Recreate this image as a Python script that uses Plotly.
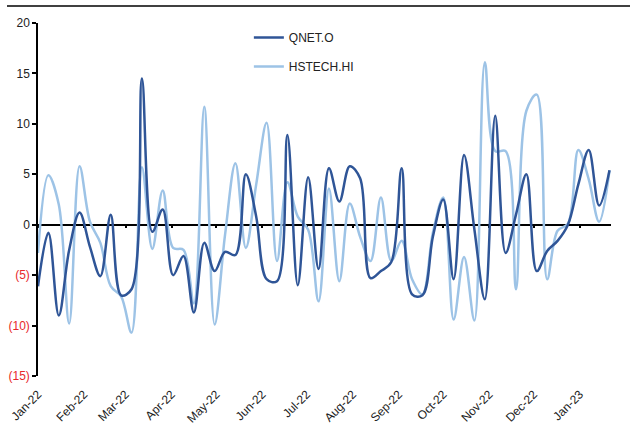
import pandas as pd
import plotly.graph_objects as go

start_date = "2022-01-01"
n_weeks = 56
dates = pd.date_range(start_date, periods=n_weeks, freq="7D")

qnet = [-6.1, -0.8, -9.0, -2.5, 1.2, -2.2, -5.1, 1.0, -7.0, -6.4,
        14.5, -0.7, 1.5, -5.0, -3.1, -8.7, -1.8, -4.6, -2.7, -3.0,
        5.0, 0.8, -5.4, -5.6, 8.9, -6.0, 4.7, -4.4, 5.6, 2.3,
        5.8, 4.6, -5.3, -4.6, -3.7, 5.6, -6.9, -7.0, -1.2, 2.5,
        -5.4, 6.9, -0.5, -7.4, 10.8, -2.8, 1.0, 5.0, -4.6, -2.6,
        -1.6, 0.0, 4.0, 7.4, 1.9, 5.4]

hstech = [-2.8, 4.9, 2.0, -9.8, 5.8, 0.3, -1.8, -6.1, -7.1, -10.7,
          5.7, -2.4, 3.4, -2.3, -2.5, -7.8, 11.7, -9.9, -1.0, 6.1,
          -2.3, 4.0, 10.1, -3.6, 4.2, 0.8, -0.5, -7.6, 3.6, -5.6,
          2.1, -1.2, -3.6, 2.7, -3.6, -1.6, -5.4, -6.9, -0.8, 2.7,
          -9.4, -3.2, -9.5, 16.1, 7.3, 7.3, -6.4, 11.3, 12.9, -5.4,
          -0.6, 0.1, 7.4, 4.5, 0.3, 5.4]

series_names = ["QNET.O", "HSTECH.HI"]
y_tickvals = [20, 15, 10, 5, 0, -5, -10, -15]
y_ticktext = ["20", "15", "10", "5", "0",
              "<span style='color:#E8282B'>(5)</span>",
              "<span style='color:#E8282B'>(10)</span>",
              "<span style='color:#E8282B'>(15)</span>"]

DARK = "#2F5597"
LIGHT = "#9DC3E6"
FONT = "Liberation Sans, Arial, sans-serif"
x_range = ["2022-01-01", "2023-01-22"]

fig = go.Figure()
fig.add_trace(go.Scatter(x=dates, y=hstech, name=series_names[1], mode="lines",
                         line=dict(color=LIGHT, width=2.5, shape="spline", smoothing=1.0),
                         legendgroup="b", legendrank=2, xaxis="x", yaxis="y"))
fig.add_trace(go.Scatter(x=dates, y=qnet, name=series_names[0], mode="lines",
                         line=dict(color=DARK, width=2.5, shape="spline", smoothing=1.0),
                         legendgroup="a", legendrank=1, xaxis="x2", yaxis="y"))

fig.update_layout(
    width=630, height=431,
    margin=dict(l=38, r=19, t=23, b=55),
    paper_bgcolor="white", plot_bgcolor="white",
    font=dict(family=FONT, size=12, color="#222222"),
    showlegend=True,
    legend=dict(x=0.368, y=1.0, xanchor="left", yanchor="top",
                traceorder="grouped", tracegroupgap=10,
                font=dict(size=12, color="#222222"),
                bgcolor="rgba(0,0,0,0)"),
    xaxis=dict(type="date", range=x_range, showgrid=False, showline=False,
               zeroline=False, ticks="", tickmode="linear", automargin=False,
               tick0="2022-01-01", dtick="M1", tickformat="%b-%y",
               tickangle=-45, ticklabelstandoff=8,
               tickfont=dict(size=12, color="#222222")),
    xaxis2=dict(type="date", range=x_range, overlaying="x", anchor="free",
                position=15 / 35, showgrid=False, showline=True,
                linecolor="black", linewidth=1.5, ticks="outside",
                ticklen=3, tickwidth=1.5, tickcolor="black", automargin=False,
                tickmode="linear", tick0="2022-01-01", dtick="M1",
                showticklabels=False, zeroline=False, layer="below traces"),
    yaxis=dict(range=[-15, 20], tickvals=y_tickvals, ticktext=y_ticktext,
               showgrid=False, zeroline=False, showline=True, automargin=False,
               linecolor="black", linewidth=1.5, ticks="outside",
               ticklen=4, tickwidth=1.5, tickcolor="black",
               tickfont=dict(size=12, color="#222222")),
)

# decorative top rule
fig.add_shape(type="line", xref="paper", yref="paper",
              x0=(7 - 38) / 573, x1=(630 - 38) / 573,
              y0=(376 - 6) / 353, y1=(376 - 6) / 353,
              line=dict(color="black", width=1.5))

fig.write_html("out.html", config={"displayModeBar": False},
               post_script="document.body.style.margin='0';document.body.style.overflow='hidden';")
